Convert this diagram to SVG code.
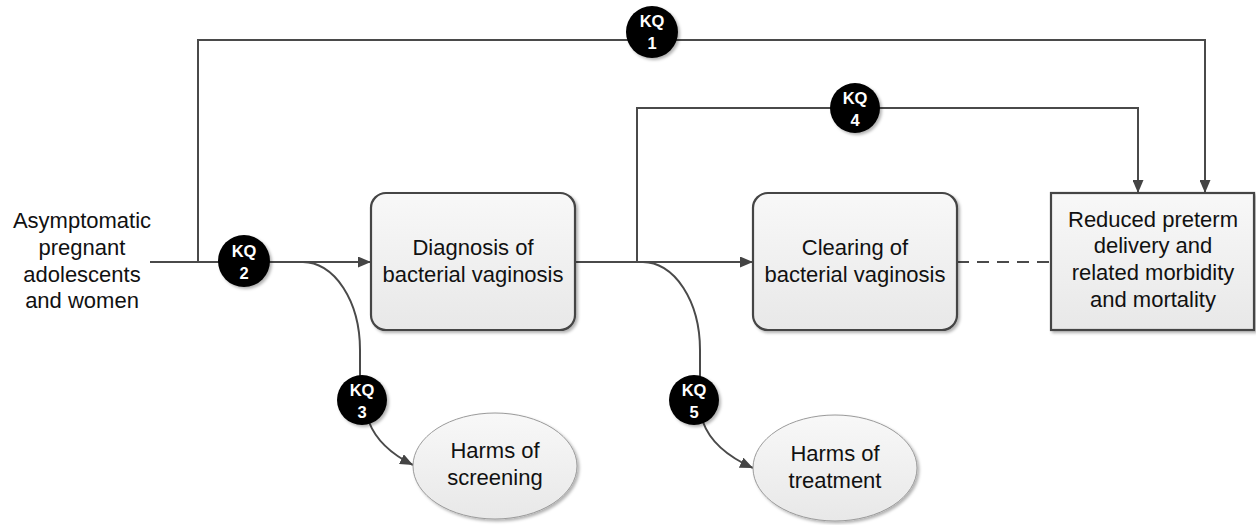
<svg xmlns="http://www.w3.org/2000/svg" width="1256" height="525" viewBox="0 0 1256 525">
<defs>
<linearGradient id="boxGrad" x1="0" y1="0" x2="0" y2="1">
<stop offset="0" stop-color="#f8f8f8"/>
<stop offset="1" stop-color="#e8e8e8"/>
</linearGradient>
<filter id="shadow" x="-10%" y="-10%" width="130%" height="130%">
<feDropShadow dx="2" dy="2" stdDeviation="1.5" flood-color="#000" flood-opacity="0.3"/>
</filter>
<marker id="arrow" markerWidth="13" markerHeight="11" refX="13" refY="5.5" orient="auto" markerUnits="userSpaceOnUse">
<path d="M0,0 L13,5.5 L0,11 z" fill="#444"/>
</marker>
</defs>
<style>
.line{fill:none;stroke:#4a4a4a;stroke-width:2}
.box{fill:url(#boxGrad);stroke:#444;stroke-width:2.2;filter:url(#shadow)}
.ell{fill:url(#boxGrad);stroke:#9a9a9a;stroke-width:1;filter:url(#shadow)}
.kq{fill:#000;filter:url(#shadow)}
.t{font-family:"Liberation Sans",Arial,sans-serif;font-size:22px;fill:#111;text-anchor:middle}
.kt{font-family:"Liberation Sans",Arial,sans-serif;font-size:16.5px;font-weight:bold;fill:#fff;text-anchor:middle}
</style>
<rect width="1256" height="525" fill="#fff"/>
<g id="connectors">
<path class="line" d="M150,262 L371,262" marker-end="url(#arrow)"/>
<path class="line" d="M198,262 L198,40 L1205,40 L1205,193" marker-end="url(#arrow)"/>
<path class="line" d="M575,262 L753,262" marker-end="url(#arrow)"/>
<path class="line" d="M637,262 L637,108 L1138,108 L1138,193" marker-end="url(#arrow)"/>
<path class="line" d="M957,262 L1051,262" stroke-dasharray="12,8"/>
<path class="line" d="M303,262 A57,88 0 0 1 360,350 L360,378"/>
<path class="line" d="M369,422 Q379,448 413,465" marker-end="url(#arrow)"/>
<path class="line" d="M643,262 A57,88 0 0 1 700,350 L700,378"/>
<path class="line" d="M703,422 Q713,450 753,468" marker-end="url(#arrow)"/>
</g>
<g id="population">
<text class="t" x="82" y="228">Asymptomatic</text>
<text class="t" x="82" y="255">pregnant</text>
<text class="t" x="82" y="282">adolescents</text>
<text class="t" x="82" y="308">and women</text>
</g>
<g id="diagnosis">
<rect class="box" x="371" y="193" width="204" height="137" rx="15"/>
<text class="t" x="473" y="255">Diagnosis of</text>
<text class="t" x="473" y="282">bacterial vaginosis</text>
</g>
<g id="clearing">
<rect class="box" x="753" y="193" width="204" height="137" rx="15"/>
<text class="t" x="855" y="255">Clearing of</text>
<text class="t" x="855" y="282">bacterial vaginosis</text>
</g>
<g id="outcome">
<rect class="box" x="1051" y="193" width="203" height="137" stroke-width="2.6"/>
<text class="t" x="1153" y="227">Reduced preterm</text>
<text class="t" x="1153" y="253">delivery and</text>
<text class="t" x="1153" y="280">related morbidity</text>
<text class="t" x="1153" y="307">and mortality</text>
</g>
<g id="harms-screening">
<ellipse class="ell" cx="495" cy="466" rx="82" ry="53"/>
<text class="t" x="495" y="458">Harms of</text>
<text class="t" x="495" y="485">screening</text>
</g>
<g id="harms-treatment">
<ellipse class="ell" cx="835" cy="468" rx="82" ry="53"/>
<text class="t" x="835" y="461">Harms of</text>
<text class="t" x="835" y="488">treatment</text>
</g>
<g id="kq1">
<circle class="kq" cx="652" cy="32" r="26"/>
<text class="kt" x="652" y="27">KQ</text>
<text class="kt" x="652" y="49">1</text>
</g>
<g id="kq2">
<circle class="kq" cx="244" cy="261" r="26"/>
<text class="kt" x="244" y="257">KQ</text>
<text class="kt" x="244" y="279">2</text>
</g>
<g id="kq3">
<circle class="kq" cx="362" cy="400" r="25"/>
<text class="kt" x="362" y="396">KQ</text>
<text class="kt" x="362" y="418">3</text>
</g>
<g id="kq4">
<circle class="kq" cx="855" cy="108" r="25"/>
<text class="kt" x="855" y="104">KQ</text>
<text class="kt" x="855" y="126">4</text>
</g>
<g id="kq5">
<circle class="kq" cx="694" cy="400" r="25"/>
<text class="kt" x="694" y="396">KQ</text>
<text class="kt" x="694" y="418">5</text>
</g>
</svg>
